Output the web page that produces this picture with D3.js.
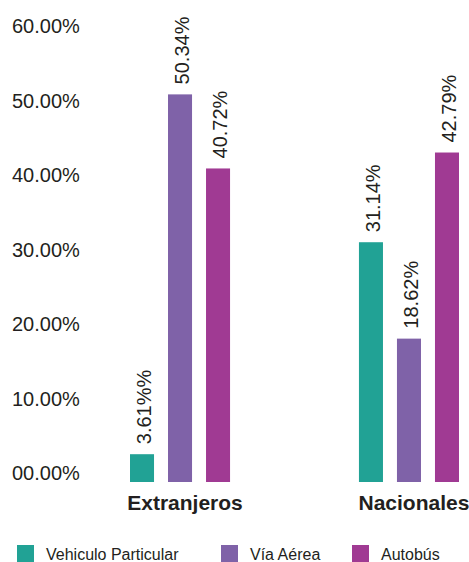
<!DOCTYPE html>
<html>
<head>
<meta charset="utf-8">
<script src="https://cdn.jsdelivr.net/npm/d3@7"></script>
<style>
  body { margin: 0; background: #fff; }
  svg text { font-family: "Liberation Sans", Arial, sans-serif; fill: #231f20; }
</style>
</head>
<body>
<svg id="chart" width="469" height="562"></svg>
<script>
// data
var categories = ["Extranjeros", "Nacionales"];
var series = ["Vehiculo Particular", "Vía Aérea", "Autobús"];
var colors = ["#21a295", "#7f62a8", "#a03a93"];
var extranjeros = [3.61, 50.34, 40.72];
var nacionales = [31.14, 18.62, 42.79];
var valueLabels = [["3.61%%", "50.34%", "40.72%"], ["31.14%", "18.62%", "42.79%"]];
var yTicks = [0, 10, 20, 30, 40, 50, 60];
var tickLabels = ["00.00%", "10.00%", "20.00%", "30.00%", "40.00%", "50.00%", "60.00%"];

var svg = d3.select("#chart");

// rows for the bars
var rows = [extranjeros, nacionales];
var bars = [];
categories.forEach(function(c, ci) {
  series.forEach(function(s, si) {
    bars.push({ cat: c, ser: s, value: rows[ci][si], label: valueLabels[ci][si], color: colors[si] });
  });
});

// scales
var y = d3.scaleLinear().domain([0, 60]).range([482, 20]);
// tick labels sit a little off the bar scale in the original
var yLabel = d3.scaleLinear().domain([0, 60]).range([480, 33]);

var x0 = d3.scaleBand().domain(categories).range([130, 459]).paddingInner(0.563).paddingOuter(0);
var x1 = d3.scaleBand().domain(series).range([0, x0.bandwidth()]).paddingInner(0.368).paddingOuter(0);

// y labels (no axis line)
svg.selectAll("text.ytick")
  .data(yTicks)
  .enter()
  .append("text")
  .attr("class", "ytick")
  .attr("x", 12)
  .attr("y", function(d) { return yLabel(d); })
  .attr("font-size", 20)
  .text(function(d, i) { return tickLabels[i]; });

// bars
svg.selectAll("rect.bar")
  .data(bars)
  .enter()
  .append("rect")
  .attr("class", "bar")
  .attr("x", function(d) { return x0(d.cat) + x1(d.ser); })
  .attr("y", function(d) { return y(d.value); })
  .attr("width", x1.bandwidth())
  .attr("height", function(d) { return y(0) - y(d.value); })
  .attr("fill", function(d) { return d.color; });

// rotated value labels
svg.selectAll("text.vlabel")
  .data(bars)
  .enter()
  .append("text")
  .attr("class", "vlabel")
  .attr("font-size", 20)
  .attr("transform", function(d) {
    var cx = x0(d.cat) + x1(d.ser) + x1.bandwidth() / 2 + 9;
    return "translate(" + cx + "," + (y(d.value) - 10) + ") rotate(-90)";
  })
  .text(function(d) { return d.label; });

// category labels
svg.selectAll("text.cat")
  .data(categories)
  .enter()
  .append("text")
  .attr("class", "cat")
  .attr("x", function(d) { return x0(d) + x0.bandwidth() / 2 + 5; })
  .attr("y", 510)
  .attr("text-anchor", "middle")
  .attr("font-size", 21)
  .attr("font-weight", "bold")
  .text(function(d) { return d; });

// legend
var legendX = [17, 221, 352];
var legend = svg.selectAll("g.legend")
  .data(series)
  .enter()
  .append("g")
  .attr("class", "legend")
  .attr("transform", function(d, i) { return "translate(" + legendX[i] + ",545)"; });

legend.append("rect")
  .attr("width", 17)
  .attr("height", 17)
  .attr("fill", function(d, i) { return colors[i]; });

legend.append("text")
  .attr("x", 29)
  .attr("y", 15)
  .attr("font-size", 16)
  .text(function(d) { return d; });
</script>
</body>
</html>
